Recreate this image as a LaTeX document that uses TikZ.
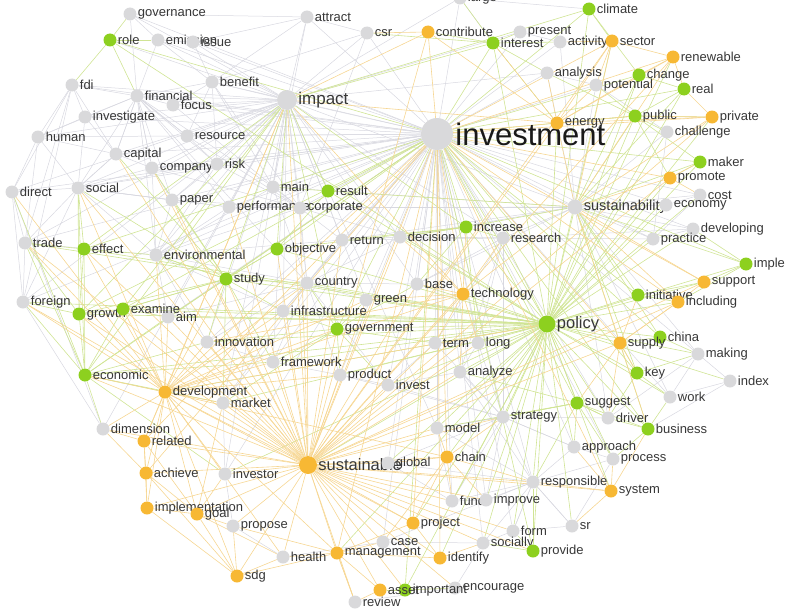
\documentclass[tikz,border=0pt]{standalone}
\usepackage{fontspec}
\setmainfont{Liberation Sans}
\usetikzlibrary{backgrounds}
\definecolor{dotgray}{RGB}{217,217,219}
\definecolor{dotgreen}{RGB}{141,208,31}
\definecolor{dotorange}{RGB}{247,184,52}
\definecolor{edgegray}{RGB}{216,216,224}
\definecolor{edgegreen}{RGB}{208,228,148}
\definecolor{edgeorange}{RGB}{246,214,146}
\definecolor{labeltext}{RGB}{55,55,55}

\begin{document}
\begin{tikzpicture}[x=1pt, y=-1pt, label distance=0pt,
  word/.style={circle, inner sep=0pt, minimum size=13pt},
  gw/.style={word, fill=dotgray},
  grw/.style={word, fill=dotgreen},
  ow/.style={word, fill=dotorange},
  lbl/.style={font=\fontsize{13}{15}\selectfont, text=labeltext, inner sep=1pt},
  eg/.style={draw=edgegray, line width=0.5pt},
  egr/.style={draw=edgegreen, line width=0.6pt},
  eo/.style={draw=edgeorange, line width=0.6pt}]
  \useasboundingbox (0,0) rectangle (787,610);

  % hubs
  \node[gw, minimum size=32pt, label={[lbl, font=\fontsize{31}{34}\selectfont, text=black!90, inner sep=2pt]right:investment}] (investment) at (437,134) {};
  \node[gw, minimum size=20pt, label={[lbl, font=\fontsize{17}{19}\selectfont]right:impact}] (impact) at (287,100) {};
  \node[gw, minimum size=15pt, label={[lbl, font=\fontsize{14.5}{16}\selectfont]right:sustainability}] (sustainability) at (575,207) {};
  \node[grw, minimum size=17pt, label={[lbl, font=\fontsize{16.5}{18}\selectfont]right:policy}] (policy) at (547,324) {};
  \node[ow, minimum size=18pt, label={[lbl, font=\fontsize{16.5}{18}\selectfont]right:sustainable}] (sustainable) at (308,465) {};

  \foreach \n/\x/\y in {governance/130/14, attract/307/17, csr/367/33, large/460/-2, emission/158/40, issue/193/42,
    fdi/72/85, benefit/212/82, present/520/32, activity/560/42, analysis/547/73, potential/596/85, financial/137/96,
    focus/173/105, investigate/85/117, human/38/137, resource/187/136, challenge/667/132, capital/116/154,
    company/152/168, risk/217/164, direct/12/192, social/78/188, paper/172/200, main/273/187, performance/229/207,
    corporate/300/208, cost/700/195, economy/666/205, trade/25/243, environmental/156/255, return/342/240,
    decision/400/237, research/503/238, developing/693/229, practice/653/239, country/307/283, base/417/284,
    green/366/300, infrastructure/283/311, foreign/23/302, aim/168/317, innovation/207/342, term/435/343,
    long/478/343, making/698/354, framework/273/362, product/340/375, analyze/460/372, invest/388/385,
    index/730/381, market/223/403, work/670/397, strategy/503/417, driver/608/418, dimension/103/429,
    model/437/428, approach/574/447, process/613/459, global/388/463, investor/225/474, responsible/533/482,
    fund/452/501, improve/486/500, propose/233/526, sr/572/526, form/513/531, case/383/542, socially/483/543,
    health/283/557, encourage/455/588, review/355/602}
    \node[gw, label={[lbl]right:\n}] (\n) at (\x,\y) {};

  \foreach \n/\x/\y in {climate/589/9, role/110/40, interest/493/43, change/639/75, real/684/89, public/635/116,
    maker/700/162, result/328/191, increase/466/227, objective/277/249, effect/84/249, imple/746/264,
    study/226/279, initiative/638/295, growth/79/314, examine/123/309, government/337/329, china/660/337,
    economic/85/375, key/637/373, suggest/577/403, business/648/429, provide/533/551, important/405/590}
    \node[grw, label={[lbl]right:\n}] (\n) at (\x,\y) {};

  \foreach \n/\x/\y in {contribute/428/32, sector/612/41, renewable/673/57, energy/557/123, private/712/117,
    promote/670/178, support/704/282, including/678/302, technology/463/294, supply/620/343,
    development/165/392, related/144/441, achieve/146/473, chain/447/457, system/611/491,
    implementation/147/508, goal/197/514, project/413/523, management/337/553, identify/440/558,
    sdg/237/576, asset/380/590}
    \node[ow, label={[lbl]right:\n}] (\n) at (\x,\y) {};

  \begin{pgfonlayer}{background}
    \foreach \m in {governance, attract, csr, large, emission, issue, fdi, benefit, present, activity, analysis,
      potential, financial, focus, investigate, human, resource, challenge, capital, company, risk, social, paper,
      main, performance, corporate, cost, economy, environmental, return, decision, research, developing, practice,
      country, base, green, infrastructure, aim, innovation, term, long, framework, product, analyze, invest,
      market, strategy, driver, model, approach, global, investor, responsible, fund, improve, form, case,
      socially, sustainability, impact, direct, trade, foreign, process, work, making}
      \draw[eg] (investment) -- (\m);
    \foreach \m in {governance, role, emission, issue, attract, csr, fdi, benefit, financial, focus, investigate,
      human, resource, capital, company, risk, direct, social, paper, main, performance, corporate, environmental,
      return, country, infrastructure, aim, trade, foreign, decision, sustainability, innovation, framework,
      market, investor, large, present, analysis, research, base, green, dimension, model}
      \draw[eg] (impact) -- (\m);
    \foreach \m in {challenge, cost, economy, developing, practice, research, decision, analysis, potential,
      activity, corporate, performance, main, making, work, driver, return, base}
      \draw[eg] (sustainability) -- (\m);
    \foreach \m in {social, capital, company, resource, risk, investigate, human, emission, benefit, paper,
      performance, main, environmental, country}
      \draw[eg] (financial) -- (\m);
    \foreach \m in {environmental, trade, foreign, paper, company, performance, capital, risk, investigate}
      \draw[eg] (social) -- (\m);
    \foreach \m in {country, return, paper, performance, infrastructure, innovation, aim, corporate, main,
      company, risk, trade}
      \draw[eg] (environmental) -- (\m);
    \foreach \m in {infrastructure, green, base, return, decision, framework, product, innovation, aim, market,
      invest, main, corporate}
      \draw[eg] (country) -- (\m);
    \foreach \m in {decision, base, long, analyze, strategy, practice, developing, return, term}
      \draw[eg] (research) -- (\m);
    \foreach \m in {analyze, long, term, invest, driver, approach, responsible, fund, improve, global, model,
      product}
      \draw[eg] (strategy) -- (\m);
    \foreach \m in {approach, process, improve, form, socially, case, global, model, sr, analyze}
      \draw[eg] (responsible) -- (\m);
    \foreach \m in {main, return, performance, paper, company, risk, resource, focus, benefit, decision}
      \draw[eg] (corporate) -- (\m);
    \foreach \m in {focus, resource, risk, issue, csr, attract, main, emission}
      \draw[eg] (benefit) -- (\m);
    \foreach \a/\b in {fdi/human, fdi/direct, fdi/trade, fdi/foreign, fdi/capital, fdi/investigate, fdi/financial,
      human/direct, human/capital, human/social, human/trade, direct/social, direct/trade, direct/foreign,
      trade/foreign, capital/social, financial/focus, financial/capital, financial/company, financial/resource,
      company/risk, company/paper, resource/risk, governance/emission, emission/issue, governance/financial,
      csr/corporate, csr/attract, dimension/foreign, dimension/direct, investigate/human, social/paper,
      capital/company, performance/paper, return/decision, decision/research, term/long, long/analyze,
      strategy/model, strategy/approach, approach/process, responsible/sr, responsible/form, responsible/fund,
      fund/improve, socially/form, case/health, propose/health, review/encourage, encourage/socially,
      sr/process, index/making, index/work, index/business, making/work, economy/cost, developing/practice,
      challenge/potential, analysis/potential, present/activity, large/interest, large/climate,
      attract/issue, attract/governance, attract/main, making/driver, practice/cost, practice/challenge,
      framework/innovation, framework/product, product/invest, invest/analyze, term/invest, market/investor,
      investor/propose, case/socially, form/sr, global/fund, model/fund, capital/investigate, paper/risk}
      \draw[eg] (\a) -- (\b);

    \foreach \m in {climate, role, interest, change, real, public, maker, result, increase, objective, effect,
      study, initiative, growth, examine, government, china, key, suggest, business, provide, important,
      policy, economic, imple}
      \draw[egr] (investment) -- (\m);
    \foreach \m in {study, effect, growth, economic, result, objective, interest, climate, examine, government,
      increase}
      \draw[egr] (impact) -- (\m);
    \foreach \m in {public, maker, imple, initiative, increase, china, change, real, result, key, business, policy}
      \draw[egr] (sustainability) -- (\m);
    \foreach \m in {interest, climate, change, public, maker, increase, objective, study, initiative, growth,
      examine, government, china, key, suggest, business, provide, important, economic, effect, result, real,
      imple, technology, supply, including, support, energy, sector, renewable, development, sustainable, chain,
      system, strategy, driver, approach, process, responsible, fund, improve, model, analyze, long, term, base,
      green, country, infrastructure, innovation, framework, product, invest, research, decision, practice,
      developing, making, index, work, form, socially, sr, aim, role, foreign, trade, market, investor, global,
      project, identify, management, private, promote, challenge, economy, cost}
      \draw[egr] (policy) -- (\m);
    \foreach \m in {aim, examine, environmental, innovation, framework, country, infrastructure, objective,
      paper, company, social, capital, market}
      \draw[egr] (study) -- (\m);
    \foreach \m in {examine, aim, innovation, market, dimension, trade, social, investor, framework}
      \draw[egr] (economic) -- (\m);
    \foreach \m in {country, green, base, product, framework, invest, term, innovation, market}
      \draw[egr] (government) -- (\m);
    \foreach \m in {research, base, return, long, decision, objective}
      \draw[egr] (increase) -- (\m);
    \foreach \m in {strategy, model, analyze, approach, process, driver, business}
      \draw[egr] (suggest) -- (\m);
    \foreach \m in {private, energy, potential, analysis, promote}
      \draw[egr] (public) -- (\m);
    \foreach \m in {csr, analysis, activity, energy}
      \draw[egr] (interest) -- (\m);
    \foreach \a/\b in {effect/growth, growth/economic, effect/economic, examine/growth, growth/foreign,
      effect/trade, growth/trade, economic/foreign, economic/direct, climate/sector, climate/change, change/real,
      real/public, public/challenge, maker/promote, maker/public, imple/support, imple/developing,
      imple/including, initiative/including, initiative/support, china/supply, china/making, key/work,
      business/process, business/work, suggest/driver, provide/form, provide/socially, interest/contribute,
      interest/present, interest/large, role/governance, role/fdi, role/financial, study/objective,
      study/examine, study/environmental, government/infrastructure, increase/decision, result/main,
      result/objective, key/supply, business/driver, suggest/strategy, suggest/responsible,
      provide/responsible, important/asset, important/encourage, economic/development, effect/environmental,
      examine/aim, growth/study, key/driver, key/making, role/emission, effect/social, growth/social}
      \draw[egr] (\a) -- (\b);

    \foreach \m in {contribute, sector, renewable, energy, private, promote, support, including, technology,
      supply, development, chain, system, project, management, identify, sustainable, related, achieve}
      \draw[eo] (investment) -- (\m);
    \foreach \m in {contribute, energy, development, sustainable, technology, related}
      \draw[eo] (impact) -- (\m);
    \foreach \m in {private, promote, support, including, technology, supply, energy, sector, renewable}
      \draw[eo] (sustainability) -- (\m);
    \foreach \m in {development, related, achieve, implementation, goal, sdg, management, project, identify,
      asset, important, encourage, review, health, case, propose, investor, market, dimension, economic, growth,
      examine, study, innovation, framework, product, invest, global, chain, fund, improve, model, strategy,
      responsible, system, socially, form, provide, technology, supply, government, infrastructure, country,
      green, aim, environmental, effect, foreign, trade, objective, performance, corporate, energy, renewable,
      sector, contribute, private, promote, support, including, term, long, analyze, base, return, decision,
      paper, company, social, capital}
      \draw[eo] (sustainable) -- (\m);
    \foreach \m in {related, achieve, implementation, goal, sdg, economic, growth, effect, foreign, trade,
      dimension, market, innovation, study, examine, aim, environmental, framework, social, direct, country,
      green, investor, health, management, technology, infrastructure, government, product, chain, project,
      policy}
      \draw[eo] (development) -- (\m);
    \foreach \m in {base, green, long, term, analyze, innovation, research, increase, decision}
      \draw[eo] (technology) -- (\m);
    \foreach \m in {model, fund, improve, strategy, responsible, case}
      \draw[eo] (chain) -- (\m);
    \foreach \m in {propose, health, achieve, related, market}
      \draw[eo] (goal) -- (\m);
    \foreach \m in {case, health, project, identify, review, propose}
      \draw[eo] (management) -- (\m);
    \foreach \m in {potential, analysis, public, change, private, interest}
      \draw[eo] (energy) -- (\m);
    \foreach \m in {key, including, initiative, business, suggest, driver}
      \draw[eo] (supply) -- (\m);
    \foreach \a/\b in {sector/renewable, renewable/change, renewable/real, private/real, private/public,
      promote/cost, support/including, supply/including, system/responsible, system/business, system/process,
      chain/global, related/achieve, achieve/implementation, implementation/goal, goal/sdg,
      sdg/implementation, sdg/health, sdg/management, sdg/propose, sdg/achieve, management/asset,
      management/review, project/identify, asset/review, related/dimension, achieve/dimension,
      energy/renewable, energy/sector, contribute/energy, promote/maker, sector/activity,
      implementation/related, goal/investor, project/chain, identify/socially, system/approach, system/sr,
      contribute/csr, sector/potential}
      \draw[eo] (\a) -- (\b);
  \end{pgfonlayer}
\end{tikzpicture}
\end{document}
